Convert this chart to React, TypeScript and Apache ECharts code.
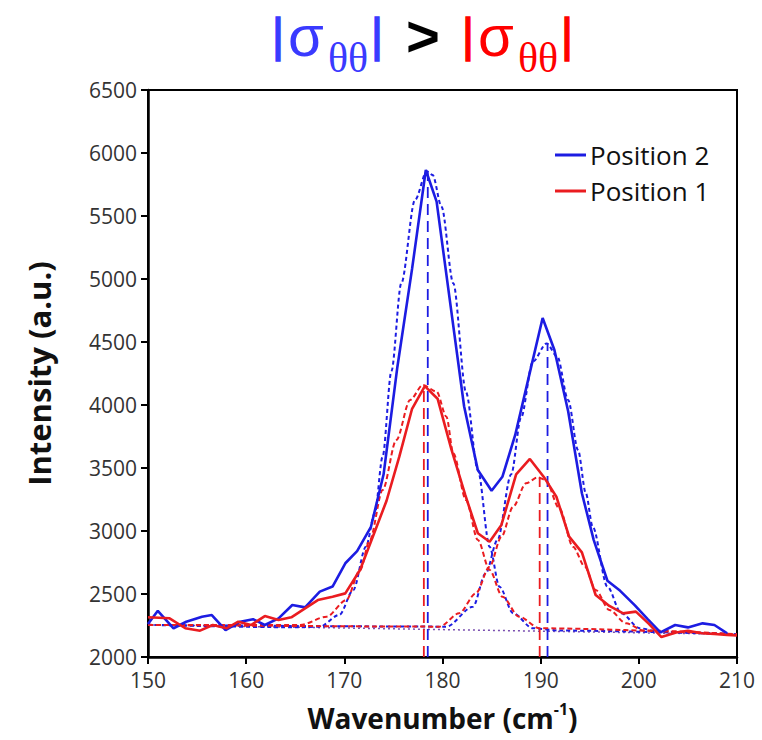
import React, { useEffect, useRef } from "react";
import * as echarts from "echarts";

// Measured spectra (wavenumber, intensity)
const p2X = [150.0, 151.0, 152.6, 153.9, 155.5, 156.5, 157.9, 159.4, 160.7, 161.9, 163.3, 164.7, 166.0, 167.5, 168.8, 170.1, 171.3, 172.7, 174.0, 175.4, 176.9, 178.3, 179.4, 180.8, 182.2, 183.6, 185.0, 186.1, 187.4, 188.8, 190.2, 191.4, 192.8, 194.2, 195.4, 196.8, 198.1, 199.6, 200.9, 202.2, 203.7, 205.0, 206.5, 207.7, 209.0];
const p2Y = [2262, 2367, 2228, 2280, 2320, 2333, 2214, 2280, 2300, 2254, 2307, 2413, 2394, 2519, 2559, 2744, 2840, 3030, 3450, 4300, 5080, 5865, 5614, 4800, 3990, 3484, 3320, 3430, 3760, 4225, 4690, 4437, 3950, 3300, 2930, 2605, 2525, 2410, 2300, 2195, 2254, 2235, 2267, 2254, 2188];

const p1X = [150.0, 152.2, 153.8, 155.3, 156.6, 158.0, 159.2, 160.5, 161.9, 163.3, 164.6, 166.0, 167.3, 168.8, 170.1, 171.6, 172.9, 174.3, 175.6, 176.9, 178.2, 179.5, 180.9, 182.3, 183.6, 184.8, 186.0, 187.5, 188.9, 190.4, 191.6, 192.9, 194.2, 195.6, 197.0, 198.4, 199.7, 201.0, 202.3, 203.8, 205.0, 206.4, 207.7, 209.0, 210.0];
const p1Y = [2315, 2307, 2228, 2209, 2254, 2228, 2280, 2254, 2325, 2294, 2315, 2386, 2452, 2479, 2505, 2690, 2955, 3240, 3590, 3970, 4150, 4050, 3650, 3290, 2982, 2915, 3048, 3450, 3572, 3420, 3272, 2955, 2830, 2492, 2405, 2346, 2360, 2265, 2158, 2195, 2209, 2188, 2183, 2175, 2172];

// Fitted components
const fitP2aX = [150, 165, 167.5, 169.5, 170.9, 172.2, 173.1, 173.9, 174.8, 175.8, 177.2, 178.4, 179.0, 179.9, 181.1, 182.4, 183.6, 184.8, 185.8, 187.2, 189.2, 192, 210];
const fitP2aY = [2255, 2236, 2241, 2335, 2530, 2875, 3140, 3590, 4270, 4966, 5627, 5855, 5825, 5574, 4966, 4100, 3484, 2875, 2558, 2347, 2228, 2210, 2180];

const fitP2bX = [150, 180.4, 183.1, 184.4, 185.6, 187.0, 188.0, 189.2, 190.6, 191.7, 192.8, 193.8, 194.6, 195.3, 196.8, 198.2, 200.1, 202, 210];
const fitP2bY = [2255, 2241, 2399, 2664, 2929, 3450, 3900, 4344, 4489, 4383, 4040, 3643, 3300, 3034, 2558, 2347, 2228, 2200, 2180];

const fitP1aX = [150, 165.5, 168.2, 170.2, 171.6, 172.6, 173.9, 175.3, 176.7, 178.0, 179.4, 180.4, 181.1, 182.4, 183.6, 184.8, 186.1, 187.8, 189.9, 210];
const fitP1aY = [2255, 2254, 2320, 2452, 2690, 2929, 3325, 3722, 4040, 4159, 4106, 3907, 3617, 3246, 2929, 2690, 2479, 2320, 2228, 2180];

const fitP1bX = [150, 179.7, 181.7, 183.4, 184.8, 186.0, 187.2, 188.5, 189.7, 190.5, 191.9, 193.3, 194.5, 195.6, 197.0, 198.7, 200.5, 210];
const fitP1bY = [2255, 2241, 2347, 2505, 2717, 2955, 3193, 3378, 3426, 3405, 3180, 2875, 2717, 2532, 2373, 2267, 2210, 2180];

const baselineX = [150, 210];
const baselineY = [2255, 2180];

const p2Centers = [178.5, 190.7];
const p2Heights = [5855, 4489];
const p1Centers = [178.1, 189.9];
const p1Heights = [4159, 3426];

const BLUE = "#1c1ce2";
const RED = "#ea1c20";
const FONT = "'Open Sans', 'DejaVu Sans', sans-serif";

const zip = (xs: number[], ys: number[]) => xs.map((x, i) => [x, ys[i]]);

export default function App() {
  const ref = useRef<HTMLDivElement>(null);
  useEffect(() => {
    document.body.style.margin = "0";
    const chart = echarts.init(ref.current!, null, { renderer: "svg" });

    const fitSeries = (xs: number[], ys: number[], color: string, dash: number[]) => ({
      type: "line",
      data: zip(xs, ys),
      symbol: "none",
      smooth: 0.3,
      smoothMonotone: "x",
      silent: true,
      lineStyle: { color, width: 2, type: dash },
      z: 2,
    });
    const vline = (c: number, h: number, color: string) => ({
      type: "line",
      data: [[c, 2000], [c, h]],
      symbol: "none",
      silent: true,
      lineStyle: { color, width: 1.8, type: [11, 6] },
      z: 3,
    });

    const titleY = 35;
    const TB = "#3a3aff";
    const TR = "#ff0000";
    chart.setOption({
      animation: false,
      backgroundColor: "#ffffff",
      grid: { left: 148, right: 25, top: 90, bottom: 83, show: true, borderColor: "#000", borderWidth: 2 },
      graphic: [
        { type: "text", x: 272, y: 12, style: { text: "|", font: "46px 'Liberation Sans'", fill: TB, stroke: TB, lineWidth: 1.5, verticalAlign: "top" } },
        { type: "text", x: 288, y: titleY, style: { text: "σ", font: "58px 'Liberation Sans'", fill: TB, verticalAlign: "middle" } },
        { type: "text", x: 328, y: 58, style: { text: "θθ", font: "42px 'Liberation Serif'", fill: TB, verticalAlign: "middle" } },
        { type: "text", x: 371, y: 12, style: { text: "|", font: "46px 'Liberation Sans'", fill: TB, stroke: TB, lineWidth: 1.5, verticalAlign: "top" } },
        { type: "text", x: 406, y: titleY, style: { text: ">", font: "bold 58px 'Liberation Sans'", fill: "#000", verticalAlign: "middle" } },
        { type: "text", x: 462, y: 12, style: { text: "|", font: "46px 'Liberation Sans'", fill: TR, stroke: TR, lineWidth: 1.5, verticalAlign: "top" } },
        { type: "text", x: 478, y: titleY, style: { text: "σ", font: "58px 'Liberation Sans'", fill: TR, verticalAlign: "middle" } },
        { type: "text", x: 518, y: 58, style: { text: "θθ", font: "42px 'Liberation Serif'", fill: TR, verticalAlign: "middle" } },
        { type: "text", x: 561, y: 12, style: { text: "|", font: "46px 'Liberation Sans'", fill: TR, stroke: TR, lineWidth: 1.5, verticalAlign: "top" } },
      ],
      legend: {
        data: ["Position 2", "Position 1"],
        orient: "vertical",
        left: 550,
        top: 135,
        icon: "rect",
        itemWidth: 31,
        itemHeight: 3,
        itemGap: 6,
        textStyle: { fontFamily: FONT, fontSize: 26, lineHeight: 30, color: "#111", padding: [0, 0, 0, -1] },
      },
      xAxis: {
        type: "value",
        min: 150,
        max: 210,
        interval: 10,
        name: "{n|Wavenumber (cm}{s|-1}{n|)}",
        nameLocation: "middle",
        nameGap: 44,
        nameTextStyle: {
          rich: {
            n: { fontFamily: FONT, fontSize: 28, fontWeight: "bold", color: "#111", lineHeight: 34 },
            s: { fontFamily: FONT, fontSize: 16, fontWeight: "bold", color: "#111", verticalAlign: "top", lineHeight: 16 },
          },
        },
        axisLine: { lineStyle: { color: "#000", width: 2.5 } },
        axisTick: { show: true, inside: false, length: 7, lineStyle: { color: "#000", width: 2 } },
        axisLabel: { fontFamily: FONT, fontSize: 21, color: "#333", margin: 12 },
        splitLine: { show: false },
      },
      yAxis: {
        type: "value",
        min: 2000,
        max: 6500,
        interval: 500,
        name: "Intensity (a.u.)",
        nameLocation: "middle",
        nameGap: 94,
        nameTextStyle: { fontFamily: FONT, fontSize: 31, fontWeight: "bold", color: "#111" },
        axisLine: { show: true, lineStyle: { color: "#000", width: 2.5 } },
        axisTick: { show: true, inside: false, length: 7, lineStyle: { color: "#000", width: 2 } },
        axisLabel: { fontFamily: FONT, fontSize: 21, color: "#333", margin: 11, formatter: (v: number) => String(v) },
        splitLine: { show: false },
      },
      series: [
        { type: "line", data: zip(baselineX, baselineY), symbol: "none", silent: true, lineStyle: { color: "#7a4fb0", width: 1.5, type: [2, 3] }, z: 1 },
        fitSeries(fitP2aX, fitP2aY, BLUE, [4, 3]),
        fitSeries(fitP2bX, fitP2bY, BLUE, [4, 3]),
        fitSeries(fitP1aX, fitP1aY, RED, [5, 3]),
        fitSeries(fitP1bX, fitP1bY, RED, [5, 3]),
        vline(p2Centers[0], p2Heights[0], BLUE),
        vline(p2Centers[1], p2Heights[1], BLUE),
        vline(p1Centers[0], p1Heights[0], RED),
        vline(p1Centers[1], p1Heights[1], RED),
        { name: "Position 2", type: "line", data: zip(p2X, p2Y), symbol: "none", lineStyle: { color: BLUE, width: 2.6 }, itemStyle: { color: BLUE }, z: 4 },
        { name: "Position 1", type: "line", data: zip(p1X, p1Y), symbol: "none", lineStyle: { color: RED, width: 2.6 }, itemStyle: { color: RED }, z: 5 },
      ],
    });
    return () => chart.dispose();
  }, []);
  return <div ref={ref} style={{ width: 762, height: 740 }} />;
}
